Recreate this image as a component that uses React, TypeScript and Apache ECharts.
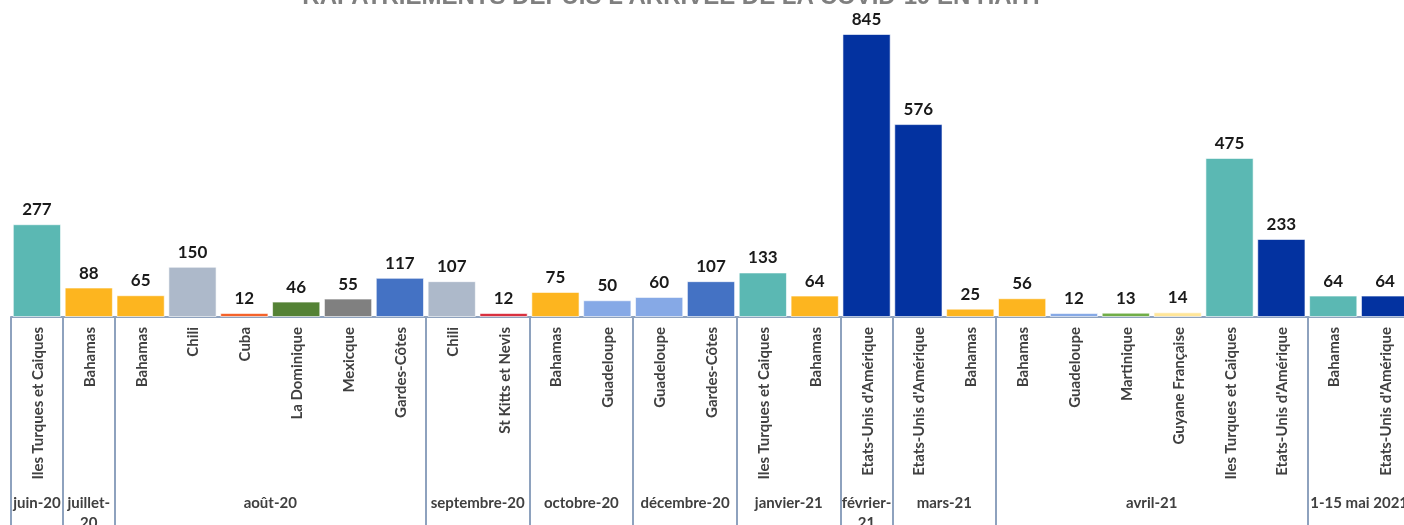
import React, { useEffect, useRef } from "react";
import * as echarts from "echarts";

const categories = [
  "Iles Turques et Caiques", "Bahamas", "Bahamas", "Chili", "Cuba", "La Dominique", "Mexicque", "Gardes-Côtes",
  "Chili", "St Kitts et Nevis", "Bahamas", "Guadeloupe", "Guadeloupe", "Gardes-Côtes",
  "Iles Turques et Caiques", "Bahamas", "Etats-Unis d'Amérique", "Etats-Unis d'Amérique", "Bahamas",
  "Bahamas", "Guadeloupe", "Martinique", "Guyane Française", "Iles Turques et Caiques", "Etats-Unis d'Amérique",
  "Bahamas", "Etats-Unis d'Amérique",
];
const values = [277, 88, 65, 150, 12, 46, 55, 117, 107, 12, 75, 50, 60, 107, 133, 64, 845, 576, 25, 56, 12, 13, 14, 475, 233, 64, 64];
const barColors = [
  "#5BB8B3", "#FDB51F", "#FDB51F", "#ADB9CA", "#F4622A", "#548235", "#808080", "#4472C4",
  "#ADB9CA", "#D9303F", "#FDB51F", "#86A9E6", "#86A9E6", "#4472C4",
  "#5BB8B3", "#FDB51F", "#0332A0", "#0332A0", "#FDB51F",
  "#FDB51F", "#86A9E6", "#70AD47", "#FFE699", "#5BB8B3", "#0332A0",
  "#5BB8B3", "#0332A0",
];
const groupNames = ["juin-20", "juillet-\n20", "août-20", "septembre-20", "octobre-20", "décembre-20", "janvier-21", "février-\n21", "mars-21", "avril-21", "1-15 mai 2021"];
const groupSizes = [1, 1, 6, 2, 2, 2, 2, 1, 2, 6, 2];
const title = "RAPATRIEMENTS DEPUIS L'ARRIVEE DE LA COVID-19 EN HAITI";

export default function App() {
  const ref = useRef<HTMLDivElement>(null);
  useEffect(() => {
    document.body.style.margin = "0";
    document.body.style.overflow = "hidden";
    const chart = echarts.init(ref.current!, null, { renderer: "svg" });
    const boundaries = new Set<number>();
    let acc = 0;
    groupSizes.forEach((s) => { boundaries.add(acc); acc += s; });
    boundaries.add(acc);
    const font = "Lato";
    chart.setOption({
      animation: false,
      grid: { left: 11, right: 9, top: 34, bottom: 208, containLabel: false },
      xAxis: {
        type: "category",
        data: categories,
        axisLine: { show: true, lineStyle: { color: "#8EA2BE", width: 2 } },
        axisTick: {
          show: true,
          length: 210,
          interval: (i: number) => boundaries.has(i),
          lineStyle: { color: "#8EA2BE", width: 2 },
        },
        axisLabel: {
          interval: 0,
          rotate: 90,
          margin: 10,
          color: "#404040",
          fontFamily: font,
          fontSize: 15,
          fontWeight: "bold",
        },
      },
      yAxis: { type: "value", min: 0, max: 845, show: false, splitLine: { show: false } },
      series: [
        {
          type: "bar",
          data: values.map((v, i) => ({ value: v, itemStyle: { color: barColors[i] } })),
          barCategoryGap: "7%",
          itemStyle: { borderColor: "rgba(255,255,255,0.6)", borderWidth: 1 },
          label: {
            show: true,
            position: "top",
            distance: 7,
            color: "#1a1a1a",
            fontFamily: font,
            fontSize: 17,
            fontWeight: "bold",
          },
        },
      ],
    });
    const px = (i: number) => (chart.convertToPixel({ xAxisIndex: 0 }, i) as number);
    const graphics: any[] = [
      {
        type: "text",
        x: 671,
        y: -5,
        style: {
          text: title,
          fill: "#7F7F7F",
          font: "bold 24px 'Liberation Sans', Arial, sans-serif",
          align: "center",
          verticalAlign: "middle",
        },
      },
    ];
    let start = 0;
    groupSizes.forEach((s, gi) => {
      const end = start + s - 1;
      const cx = (px(start) + px(end)) / 2;
      graphics.push({
        type: "text",
        x: cx,
        y: 492,
        style: {
          text: groupNames[gi],
          fill: "#404040",
          fontFamily: font,
          fontSize: 15,
          fontWeight: "bold",
          align: "center",
          verticalAlign: "top",
          lineHeight: 20,
        },
      });
      start += s;
    });
    chart.setOption({ graphic: graphics });
    return () => chart.dispose();
  }, []);
  return <div ref={ref} style={{ position: "fixed", left: 0, top: 0, width: 1420, height: 525 }} />;
}
